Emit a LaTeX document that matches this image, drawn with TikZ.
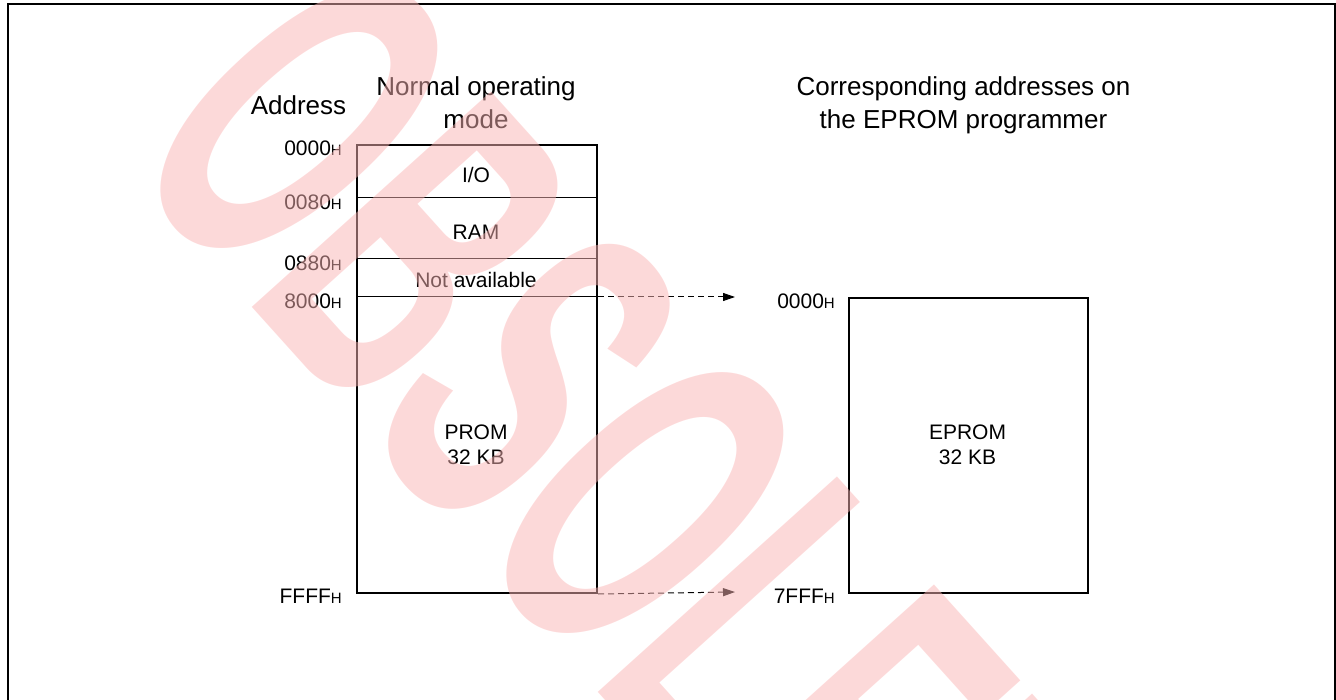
\documentclass[tikz,border=0pt]{standalone}
\usepackage{fontspec}
\setmainfont{Liberation Sans}
\usetikzlibrary{arrows.meta}
\definecolor{wmark}{RGB}{250,180,180}
\newcommand{\hsuf}{{\fontsize{15}{15}\selectfont H}}

\begin{document}
\begin{tikzpicture}[x=1pt,y=-1pt,
    title/.style={font=\fontsize{26}{33}\selectfont, align=center, inner sep=0pt, anchor=north},
    field/.style={font=\fontsize{21}{25}\selectfont, align=center, inner sep=0pt},
    addr/.style={font=\fontsize{21}{21}\selectfont, inner sep=0pt, anchor=east},
    membox/.style={draw, line width=2pt, inner sep=0pt, anchor=north west},
    divider/.style={line width=1pt},
    maparrow/.style={line width=1pt, dash pattern=on 6pt off 4pt, -{Triangle[length=12pt,width=8pt]}}]
    \useasboundingbox (0,0) rectangle (1336,700);

    \coordinate (L80) at (0,198);
    \coordinate (L880) at (0,259);
    \coordinate (L8000) at (0,297);
    \coordinate (tip1) at (735,297);
    \coordinate (tip2) at (735,592);

    \draw[line width=2pt] (8,700) -- (8,4.5) -- (1335,4.5) -- (1335,700); % frame

    \node[membox, minimum width=240pt, minimum height=448pt] (normal) at (356,144) {};
    \node[membox, minimum width=239pt, minimum height=295pt] (eprom) at (848,297) {};

    \draw[divider] (normal.west |- L80) -- (normal.east |- L80); % I/O | RAM
    \draw[divider] (normal.west |- L880) -- (normal.east |- L880); % RAM | n.a.
    \draw[divider] (normal.west |- L8000) -- (normal.east |- L8000); % n.a. | PROM

    \draw[maparrow] (normal.east |- tip1) -- (tip1);
    \draw[maparrow] (normal.south east) -- (tip2);

    \node[title, anchor=base] (addrhead) at (298.5,115) {Address};
    \node[title] (normhead) at (476,76) {Normal operating\\mode};
    \node[title] (epromhead) at (963.5,76) {Corresponding addresses on\\the EPROM programmer};

    \node[field] (io) at (476,175) {I/O};
    \node[field] (ram) at (476,232) {RAM};
    \node[field] (na) at (476,280) {Not available};
    \node[field] (prom) at (476,445) {PROM\\32 KB};
    \node[field] (eprtext) at (967.5,445) {EPROM\\32 KB};

    \node[addr] (a0000) at (342,148) {0000\hsuf};
    \node[addr] (a0080) at (342,202) {0080\hsuf};
    \node[addr] (a0880) at (342,263) {0880\hsuf};
    \node[addr] (a8000) at (342,301) {8000\hsuf};
    \node[addr] (affff) at (342,596) {FFFF\hsuf};
    \node[addr] (b0000) at (835,301) {0000\hsuf};
    \node[addr] (b7fff) at (835,596) {7FFF\hsuf};

    % watermark
    \node[rotate=-48, inner sep=0pt, text=wmark, opacity=0.5,
        font=\fontsize{468}{468}\selectfont\bfseries] (wm) at (676,538) {\scalebox{0.51}[1]{OBSOLETE}};
\end{tikzpicture}
\end{document}
